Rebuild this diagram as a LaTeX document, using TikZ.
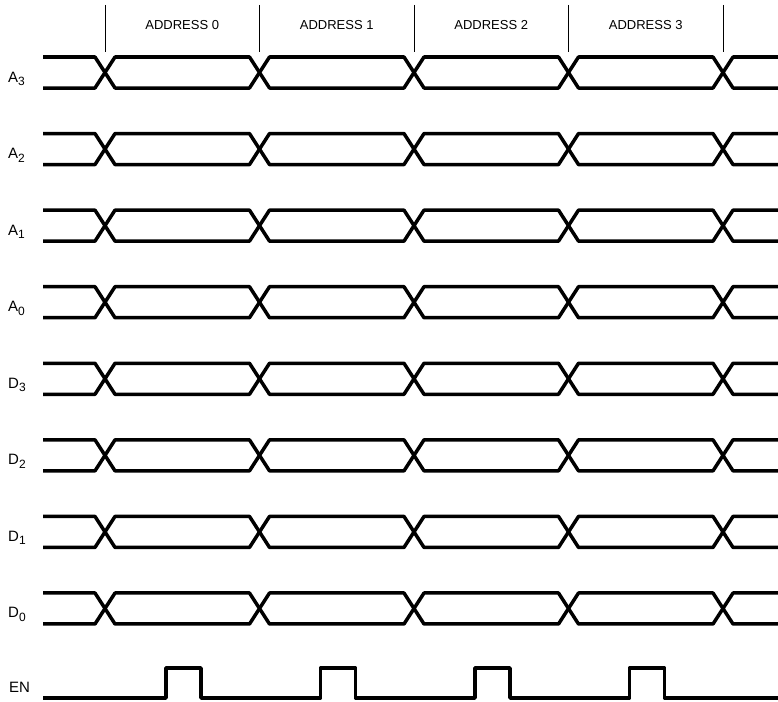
\documentclass[tikz,border=0pt]{standalone}
\usepackage{fontspec}
\setmainfont{Liberation Sans}
\begin{document}
\begin{tikzpicture}[x=1pt,y=-1pt,
  sig/.style={line width=3.5pt, line join=round},
  tickline/.style={line width=1pt},
  lbl/.style={font=\fontsize{15}{15}\selectfont, inner sep=0pt},
  addr/.style={font=\fontsize{13}{13}\selectfont, inner sep=0pt}]
\useasboundingbox (0,0) rectangle (778,701);
% address boundaries
\foreach \c [count=\k from 0] in {105,259.5,414,568.5,723} {
  \coordinate (t\k) at (\c,5);
  \coordinate (b\k) at (\c,52);
  \draw[tickline] (t\k) -- (b\k);
}
\foreach \k in {0,1,2,3} {
  \pgfmathsetmacro\cx{105+154.5*\k+77.25}
  \node[addr] (addr\k) at (\cx,25) {ADDRESS \k};
}
% bus signals
\foreach \L/\s [count=\i from 0] in {A/3,A/2,A/1,A/0,D/3,D/2,D/1,D/0} {
  \pgfmathsetmacro\yh{57+76.57*\i}
  \pgfmathsetmacro\yl{\yh+31}
  \draw[sig] (43,\yh) -- (95,\yh) -- (115,\yl) -- (249.5,\yl) -- (269.5,\yh) -- (404,\yh) -- (424,\yl) -- (558.5,\yl) -- (578.5,\yh) -- (713,\yh) -- (733,\yl) -- (780,\yl);
  \draw[sig] (43,\yl) -- (95,\yl) -- (115,\yh) -- (249.5,\yh) -- (269.5,\yl) -- (404,\yl) -- (424,\yh) -- (558.5,\yh) -- (578.5,\yl) -- (713,\yl) -- (733,\yh) -- (780,\yh);
  \node[lbl, anchor=base west] (lab\i) at (8,\yl-6) {\L\raisebox{-0.45ex}{\fontsize{12}{12}\selectfont\s}};
}
% enable
\node[lbl, anchor=base west] (en) at (9,692) {EN};
\draw[sig] (43,698) -| (166,668) -| (201,698) -| (320.5,668) -| (355.5,698) -| (475,668) -| (510,698) -| (629.5,668) -| (664.5,698) -- (780,698);
\end{tikzpicture}
\end{document}
